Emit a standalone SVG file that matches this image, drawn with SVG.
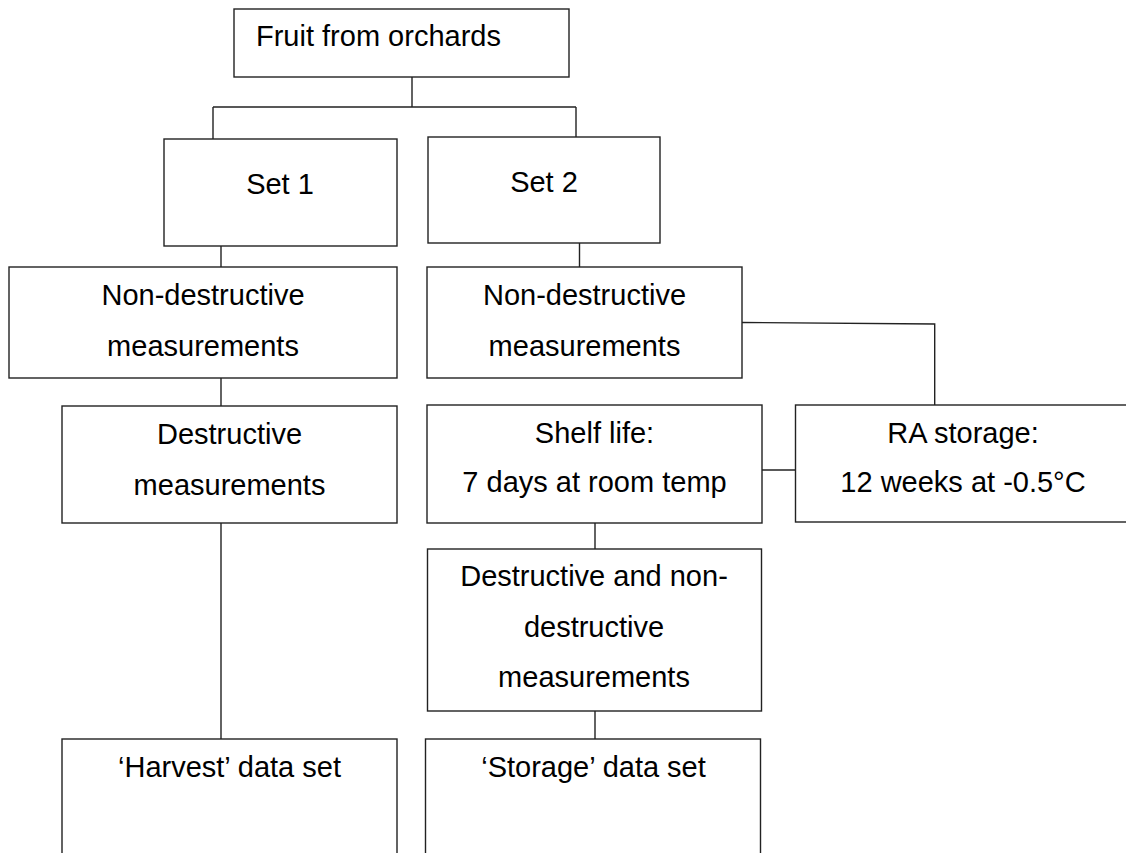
<svg xmlns="http://www.w3.org/2000/svg" width="1126" height="853" viewBox="0 0 1126 853">
<style>
.box{fill:#fff;stroke:#222;stroke-width:1.4}
.ln{fill:none;stroke:#222;stroke-width:1.4}
text{font-family:"Liberation Sans",Arial,sans-serif;font-size:29px;fill:#000}
.c{text-anchor:middle}
</style>
<rect width="1126" height="853" fill="#fff"/>
<g id="connectors">
<path class="ln" d="M412,77 V107 M213,107 H576 M213,107 V139 M576,107 V137"/>
<path class="ln" d="M221,246 V267"/>
<path class="ln" d="M579.5,243 V267"/>
<path class="ln" d="M221,378 V406"/>
<path class="ln" d="M221,523 V739"/>
<path class="ln" d="M742,322.5 L934.7,324 V405"/>
<path class="ln" d="M762,470 H795.5"/>
<path class="ln" d="M595,523 V549"/>
<path class="ln" d="M595,711 V739"/>
</g>
<g id="fruit">
<rect class="box" x="234" y="9" width="335" height="68"/>
<text x="256" y="46">Fruit from orchards</text>
</g>
<g id="set1">
<rect class="box" x="164" y="139" width="233" height="107"/>
<text class="c" x="280" y="194">Set 1</text>
</g>
<g id="set2">
<rect class="box" x="428" y="137" width="232" height="106"/>
<text class="c" x="544" y="192">Set 2</text>
</g>
<g id="nondest1">
<rect class="box" x="9" y="267" width="388" height="111"/>
<text class="c" x="203" y="305">Non-destructive</text>
<text class="c" x="203" y="356">measurements</text>
</g>
<g id="nondest2">
<rect class="box" x="427" y="267" width="315" height="111"/>
<text class="c" x="584.5" y="305">Non-destructive</text>
<text class="c" x="584.5" y="356">measurements</text>
</g>
<g id="dest1">
<rect class="box" x="62" y="406" width="335" height="117"/>
<text class="c" x="229.5" y="444">Destructive</text>
<text class="c" x="229.5" y="495">measurements</text>
</g>
<g id="shelf">
<rect class="box" x="427" y="405" width="335" height="118"/>
<text class="c" x="594.5" y="443">Shelf life:</text>
<text class="c" x="594.5" y="492">7 days at room temp</text>
</g>
<g id="ra">
<rect class="box" x="795.5" y="405" width="340" height="117"/>
<text class="c" x="963" y="443">RA storage:</text>
<text class="c" x="963" y="492">12 weeks at -0.5°C</text>
</g>
<g id="destnondest">
<rect class="box" x="427.5" y="549" width="334" height="162"/>
<text class="c" x="594" y="586">Destructive and non-</text>
<text class="c" x="594" y="637">destructive</text>
<text class="c" x="594" y="687">measurements</text>
</g>
<g id="harvest">
<rect class="box" x="62" y="739" width="335" height="130"/>
<text class="c" x="229.5" y="777">‘Harvest’ data set</text>
</g>
<g id="storage">
<rect class="box" x="425.5" y="739" width="335" height="130"/>
<text class="c" x="593.5" y="777">‘Storage’ data set</text>
</g>
</svg>
